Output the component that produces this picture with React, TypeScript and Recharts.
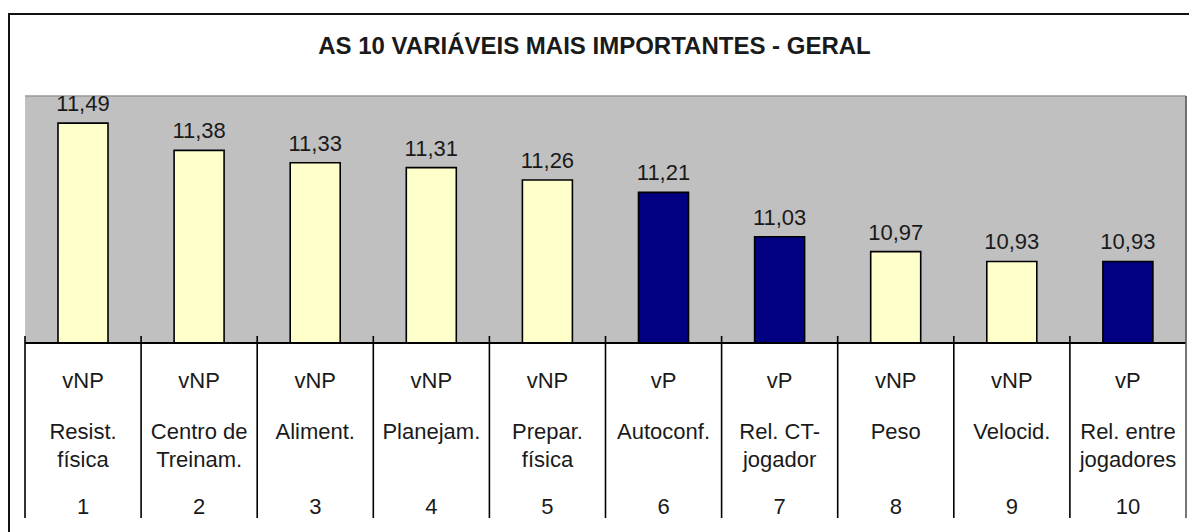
import React from "react";
import { BarChart, Bar, XAxis, YAxis, CartesianGrid, Cell, LabelList } from "recharts";

const groups = ["vNP", "vNP", "vNP", "vNP", "vNP", "vP", "vP", "vNP", "vNP", "vP"];
const names = [
  "Resist.\nfísica",
  "Centro de\nTreinam.",
  "Aliment.",
  "Planejam.",
  "Prepar.\nfísica",
  "Autoconf.",
  "Rel. CT-\njogador",
  "Peso",
  "Velocid.",
  "Rel. entre\njogadores",
];
const ranks = ["1", "2", "3", "4", "5", "6", "7", "8", "9", "10"];
const values = [11.49, 11.38, 11.33, 11.31, 11.26, 11.21, 11.03, 10.97, 10.93, 10.93];
const yDomain = [10.6, 11.6];
const title = "AS 10 VARIÁVEIS MAIS IMPORTANTES - GERAL";

const colorFor: Record<string, string> = { vNP: "#FFFFCC", vP: "#000080" };

const data = values.map((v, i) => ({
  key: ranks[i],
  value: v,
  group: groups[i],
  name: names[i],
  rank: ranks[i],
}));

const W = 1189;
const H = 532;
const M_TOP = 96;
const M_LEFT = 25;
const M_RIGHT = 3;
const AXIS_H = 189;
const PLOT_H = H - M_TOP - AXIS_H;
const FONT = "'Liberation Sans', Arial, Helvetica, sans-serif";
const TXT = "#1a1a1a";

const Tick = (props: any) => {
  const { x, y, index, payload } = props;
  const count = props.visibleTicksCount ?? data.length;
  const band = (props.width ?? W - M_LEFT - M_RIGHT) / count;
  const d = data[index] ?? data.find((e) => e.key === payload.value);
  const lines = d.name.split("\n");
  const left = x - band / 2;
  const right = x + band / 2;
  const isLast = index === data.length - 1;
  return (
    <g>
      <line x1={left} x2={left} y1={y - 7} y2={y + 175} stroke="#000" strokeWidth={1.6} />
      {isLast && (
        <line x1={right} x2={right} y1={y - PLOT_H} y2={y + 175} stroke="#555" strokeWidth={1.6} />
      )}
      <text x={x} y={y + 45} textAnchor="middle" fontSize={22} fill={TXT} fontFamily={FONT}>
        {d.group}
      </text>
      {lines.map((ln: string, i: number) => (
        <text
          key={i}
          x={x}
          y={y + 96 + i * 28}
          textAnchor="middle"
          fontSize={22}
          fill={TXT}
          fontFamily={FONT}
        >
          {ln}
        </text>
      ))}
      <text x={x} y={y + 171} textAnchor="middle" fontSize={22} fill={TXT} fontFamily={FONT}>
        {d.rank}
      </text>
    </g>
  );
};

export default function App() {
  return (
    <div
      style={{
        position: "fixed",
        left: 0,
        top: 0,
        width: W,
        height: H,
        overflow: "hidden",
        background: "#fff",
      }}
    >
      <div
        style={{
          position: "absolute",
          left: 8,
          top: 13,
          width: W + 20,
          height: H + 20,
          border: "2px solid #111",
          boxSizing: "border-box",
        }}
      />
      <div
        style={{
          position: "absolute",
          left: 0,
          top: 31,
          width: W,
          textAlign: "center",
          fontFamily: FONT,
          fontWeight: "bold",
          fontSize: 24,
          lineHeight: "30px",
          color: TXT,
        }}
      >
        {title}
      </div>
      <div style={{ position: "absolute", left: 0, top: 0 }}>
        <BarChart
          width={W}
          height={H}
          data={data}
          margin={{ top: M_TOP, left: M_LEFT, right: M_RIGHT, bottom: 0 }}
          barCategoryGap={0}
        >
          <CartesianGrid
            fill="#C0C0C0"
            vertical={false}
            horizontal={true}
            stroke="#9a9a9a"
            strokeWidth={1.5}
          />
          <YAxis hide domain={yDomain} ticks={[yDomain[1]]} allowDataOverflow />
          <XAxis
            dataKey="key"
            height={AXIS_H}
            interval={0}
            tickSize={0}
            tickMargin={0}
            tickLine={false}
            axisLine={{ stroke: "#000", strokeWidth: 2 }}
            tick={<Tick />}
          />
          <Bar dataKey="value" barSize={50} stroke="#000" strokeWidth={1.6} isAnimationActive={false}>
            {data.map((d, i) => (
              <Cell key={i} fill={colorFor[d.group]} />
            ))}
            <LabelList
              dataKey="value"
              position="top"
              offset={12}
              fontSize={22}
              fill={TXT}
              fontFamily={FONT}
              formatter={(v: any) => Number(v).toFixed(2).replace(".", ",")}
            />
          </Bar>
        </BarChart>
      </div>
    </div>
  );
}
